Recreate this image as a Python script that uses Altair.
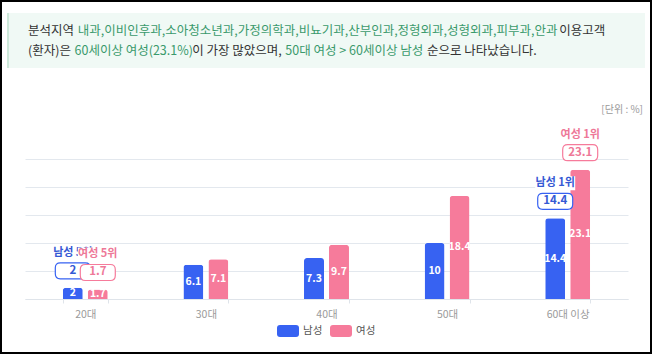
import altair as alt
import pandas as pd

# ---------------- data ----------------
categories = ["20대", "30대", "40대", "50대", "60대 이상"]
genders = ["남성", "여성"]
male_values = [2, 6.1, 7.3, 10, 14.4]
female_values = [1.7, 7.1, 9.7, 18.4, 23.1]

rank_categories = ["20대", "60대 이상"]
male_ranks = ["남성 5위", "남성 1위"]
female_ranks = ["여성 5위", "여성 1위"]
grid_values = [0, 5, 10, 15, 20, 25]

# (text, colour kind, followed by a space?)
header_line1 = [("분석지역", "dark", True),
                ("내과,이비인후과,소아청소년과,가정의학과,비뇨기과,산부인과,정형외과,성형외과,피부과,안과", "green", True),
                ("이용고객", "dark", False)]
header_line2 = [("(환자)은", "dark", True),
                ("60세이상 여성(23.1%)", "green", False),
                ("이 가장 많았으며,", "dark", True),
                ("50대 여성 > 60세이상 남성", "green", True),
                ("순으로 나타났습니다.", "dark", False)]
unit_text = "[단위 : %]"

# ---------------- style ----------------
BLUE = "#3762F2"
PINK = "#F67B9B"
BLUE_TXT = "#3559D4"
PINK_TXT = "#EE7898"
GREEN = "#3a9a6c"
DARK = "#333333"
FONT = "Noto Sans CJK KR"

W, H = 603, 140
PAD_L, PAD_T = 25, 159

rows = []
for c, m, f in zip(categories, male_values, female_values):
    rows.append({"category": c, "gender": "남성", "value": m, "vtxt": f"{m:g}"})
    rows.append({"category": c, "gender": "여성", "value": f, "vtxt": f"{f:g}"})
df = pd.DataFrame(rows)

ann_rows = []
for c, mr, fr in zip(rank_categories, male_ranks, female_ranks):
    mv = male_values[categories.index(c)]
    fv = female_values[categories.index(c)]
    ann_rows.append({"category": c, "gender": "남성", "value": mv, "rank": mr, "vtxt": f"{mv:g}"})
    ann_rows.append({"category": c, "gender": "여성", "value": fv, "rank": fr, "vtxt": f"{fv:g}"})
ann = pd.DataFrame(ann_rows)

xaxis = alt.Axis(title=None, labelAngle=0, labelColor="#9a9a9a", labelFontSize=10.5,
                 labelFont=FONT, labelPadding=6, domainColor="#dfe4ea",
                 ticks=True, tickBand="extent", tickSize=4, tickColor="#dfe4ea")
xenc = alt.X("category:N", sort=categories,
             scale=alt.Scale(paddingInner=0.627, paddingOuter=0.3135), axis=xaxis)
xoff = alt.XOffset("gender:N", sort=genders, scale=alt.Scale(paddingInner=0.2, paddingOuter=0))
yscale = alt.Scale(domain=[0, 25], nice=False)
yaxis = alt.Axis(title=None, values=grid_values, labels=False, ticks=False,
                 domain=False, grid=True, gridColor="#e3e8ee")


def ypos(field):
    return alt.Y(field, scale=yscale, axis=yaxis)


legend_path = ("M-0.73,-0.545 L0.73,-0.545 Q1,-0.545 1,-0.275 L1,0.275 Q1,0.545 0.73,0.545 "
               "L-0.73,0.545 Q-1,0.545 -1,0.275 L-1,-0.275 Q-1,-0.545 -0.73,-0.545 Z")

bars = alt.Chart(df).mark_bar(cornerRadiusTopLeft=3, cornerRadiusTopRight=3).encode(
    x=xenc, xOffset=xoff, y=ypos("value:Q"),
    color=alt.Color("gender:N", sort=genders,
                    scale=alt.Scale(domain=genders, range=[BLUE, PINK]),
                    legend=alt.Legend(title=None, orient="none", direction="horizontal",
                                      legendX=252, legendY=161, symbolType=legend_path,
                                      symbolSize=484, symbolStrokeWidth=0, labelFont=FONT,
                                      labelFontSize=10.5, labelColor="#555", labelOffset=4,
                                      columnPadding=7)),
)

bar_labels = alt.Chart(df).transform_calculate(mid="datum.value / 2").mark_text(
    font=FONT, fontSize=10.5, fontWeight="bold", color="white", baseline="middle"
).encode(x=alt.X("category:N", sort=categories, axis=xaxis), xOffset=xoff,
         y=ypos("mid:Q"), text="vtxt:N")

box_path = ("M-0.714,-0.457 L0.714,-0.457 Q1,-0.457 1,-0.171 L1,0.171 Q1,0.457 0.714,0.457 "
            "L-0.714,0.457 Q-1,0.457 -1,0.171 L-1,-0.171 Q-1,-0.457 -0.714,-0.457 Z")
bg_path = "M-1,-0.35 L1,-0.35 L1,0.35 L-1,0.35 Z"


def annotation_layers(g, stroke, txt):
    base = alt.Chart(ann).transform_filter(alt.datum.gender == g)
    enc = dict(x=alt.X("category:N", sort=categories, axis=xaxis), xOffset=xoff, y=ypos("value:Q"))
    bg = base.mark_point(shape=bg_path, size=1600, filled=True, fill="white", opacity=1,
                         strokeWidth=0, yOffset=-35).encode(**enc)
    rank = base.mark_text(font=FONT, fontSize=11, fontWeight="bold", color=txt, dy=-35,
                          baseline="middle").encode(text="rank:N", **enc)
    box = base.mark_point(shape=box_path, size=1225, filled=False, fill="white", fillOpacity=1,
                          stroke=stroke, strokeWidth=1.2, opacity=1, yOffset=-17).encode(**enc)
    val = base.mark_text(font=FONT, fontSize=11.5, fontWeight="bold", color=txt, dy=-17,
                         baseline="middle").encode(text="vtxt:N", **enc)
    return [bg, rank, box, val]


# ---------------- header & decorations ----------------
def est_width(s, size):
    w = 0.0
    for ch in s:
        if "\uac00" <= ch <= "\ud7a3":
            w += 0.92
        elif ch.isdigit():
            w += 0.555
        elif ch == " ":
            w += 0.224
        elif ch in ",.:":
            w += 0.26
        elif ch in "()[]":
            w += 0.33
        elif ch == "%":
            w += 0.85
        else:
            w += 0.55
    return w * size


HFS = 12.5
header_rows = []
for line, ypix in ((header_line1, 31), (header_line2, 51)):
    xpix = 28
    for seg, kind, space_after in line:
        header_rows.append({"t": seg, "x": xpix - PAD_L, "y": ypix - PAD_T, "kind": kind})
        xpix += est_width(seg, HFS) + (0.3 if space_after else 0.05) * HFS
hdf = pd.DataFrame(header_rows)

header_box = alt.Chart(pd.DataFrame({"a": [0]})).mark_rect(fill="#f0f9f5").encode(
    x=alt.value(7 - PAD_L), x2=alt.value(645 - PAD_L), y=alt.value(13 - PAD_T), y2=alt.value(68 - PAD_T))
header_edge = alt.Chart(pd.DataFrame({"a": [0]})).mark_rule(color="#cde9da", strokeWidth=2).encode(
    x=alt.value(8 - PAD_L), y=alt.value(13 - PAD_T), y2=alt.value(68 - PAD_T))
header_text = alt.Chart(hdf).mark_text(font=FONT, fontSize=HFS, align="left", baseline="middle").encode(
    x=alt.X("x:Q", scale=None, axis=None), y=alt.Y("y:Q", scale=None, axis=None), text="t:N",
    color=alt.Color("kind:N", scale=alt.Scale(domain=["dark", "green"], range=[DARK, GREEN]), legend=None))
unit = alt.Chart(pd.DataFrame({"t": [unit_text]})).mark_text(
    font=FONT, fontSize=10, color="#9a9a9a", align="right", baseline="middle").encode(
    x=alt.value(643 - PAD_L), y=alt.value(110 - PAD_T), text="t:N")
frame = alt.Chart(pd.DataFrame({"a": [0]})).mark_rect(fill=None, stroke="black", strokeWidth=2).encode(
    x=alt.value(1 - PAD_L), x2=alt.value(651 - PAD_L), y=alt.value(1 - PAD_T), y2=alt.value(353 - PAD_T))

layers = [header_box, header_edge, unit, bars, bar_labels]
layers += annotation_layers("남성", BLUE, BLUE_TXT)
layers += annotation_layers("여성", PINK, PINK_TXT)
layers += [header_text, frame]

chart = alt.layer(*layers).resolve_scale(color="independent").properties(
    width=W, height=H,
    autosize=alt.AutoSizeParams(type="none"),
    padding={"left": PAD_L, "top": PAD_T, "right": 652 - PAD_L - W, "bottom": 355 - PAD_T - H},
    background="white",
).configure_view(stroke=None)

chart.save("out.html", embed_options={"renderer": "svg", "actions": False})
